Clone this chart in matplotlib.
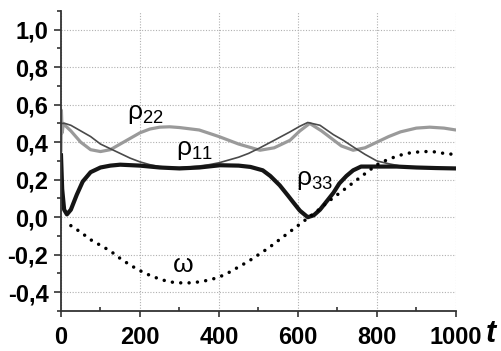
import matplotlib
matplotlib.use("Agg")
import matplotlib.pyplot as plt
from matplotlib.ticker import FixedLocator, MultipleLocator, FuncFormatter

plt.rcParams['font.family'] = ['Liberation Sans', 'DejaVu Sans']
plt.rcParams['mathtext.fontset'] = 'custom'
plt.rcParams['mathtext.rm'] = 'Liberation Sans'
plt.rcParams['mathtext.it'] = 'Liberation Sans'
plt.rcParams['mathtext.bf'] = 'Liberation Sans:bold'

# rho_22 (light gray)
t22 = [0, 1, 3, 6, 10, 25, 50, 75, 100, 125, 150, 175, 200, 225, 250, 275, 300, 350,
       400, 450, 504, 540, 580, 605, 630, 660, 685, 710, 740, 770, 800, 830, 860, 900,
       934, 970, 1000]
rho22 = [0.35, 0.57, 0.45, 0.50, 0.49, 0.46, 0.40, 0.36, 0.35, 0.36, 0.39, 0.42, 0.45,
         0.47, 0.48, 0.482, 0.478, 0.465, 0.43, 0.39, 0.357, 0.37, 0.41, 0.46, 0.50,
         0.46, 0.42, 0.38, 0.357, 0.37, 0.40, 0.43, 0.455, 0.475, 0.48, 0.475, 0.465]

# rho_11 (dark gray, thin)
t11 = [0, 10, 25, 50, 75, 100, 125, 150, 175, 200, 225, 250, 275, 300, 325, 350, 375,
       400, 425, 450, 475, 504, 540, 580, 605, 625, 656, 690, 715, 740, 770, 800, 830,
       866, 920, 1000]
rho11 = [0.50, 0.50, 0.49, 0.46, 0.43, 0.39, 0.365, 0.34, 0.315, 0.295, 0.28, 0.27,
         0.265, 0.265, 0.268, 0.273, 0.28, 0.29, 0.305, 0.32, 0.34, 0.37, 0.41, 0.455,
         0.485, 0.505, 0.49, 0.44, 0.41, 0.375, 0.335, 0.30, 0.285, 0.27, 0.265, 0.26]

# rho_33 (black, thick)
t33 = [0, 3, 8, 15, 25, 40, 55, 75, 100, 125, 150, 200, 250, 300, 350, 403, 450, 480,
       511, 530, 554, 575, 588, 605, 625, 640, 656, 675, 690, 705, 723, 740, 760, 800,
       850, 900, 950, 1000]
rho33 = [0.33, 0.15, 0.04, 0.015, 0.04, 0.12, 0.19, 0.24, 0.265, 0.275, 0.28, 0.275,
         0.265, 0.26, 0.265, 0.277, 0.275, 0.268, 0.25, 0.22, 0.17, 0.115, 0.08, 0.035,
         0.0, 0.01, 0.04, 0.09, 0.13, 0.18, 0.22, 0.25, 0.27, 0.27, 0.27, 0.265, 0.262,
         0.26]

# omega (dotted)
tw = [0, 25, 50, 75, 100, 125, 150, 175, 200, 225, 250, 275, 300, 325, 350, 375, 400,
      425, 450, 475, 500, 525, 550, 575, 600, 625, 650, 675, 700, 725, 750, 775, 800,
      825, 850, 875, 900, 925, 950, 975, 1000]
omega = [0.0, -0.045, -0.08, -0.12, -0.15, -0.18, -0.22, -0.255, -0.285, -0.31, -0.33,
         -0.345, -0.35, -0.35, -0.345, -0.335, -0.32, -0.295, -0.265, -0.235, -0.20,
         -0.165, -0.125, -0.085, -0.045, -0.005, 0.035, 0.08, 0.12, 0.16, 0.20, 0.24,
         0.28, 0.305, 0.325, 0.34, 0.347, 0.35, 0.348, 0.338, 0.335]

xticks = [0, 200, 400, 600, 800, 1000]
yticks = [-0.4, -0.2, 0.0, 0.2, 0.4, 0.6, 0.8, 1.0]

fig = plt.figure(figsize=(5.02, 3.51), dpi=100)
ax = fig.add_axes([0.1215, 0.114, 0.7865, 0.855])

ax.plot(t22, rho22, color='#9a9a9a', lw=2.3, solid_capstyle='round')
ax.plot(t11, rho11, color='#4a4a4a', lw=1.2)
ax.plot(t33, rho33, color='#151515', lw=3.0)
ax.plot(tw[1:], omega[1:], color='black', lw=2.5, linestyle=(0, (0.01, 2.4)),
        dash_capstyle='round')

ax.set_xlim(0, 1000)
ax.set_ylim(-0.5, 1.1)
ax.xaxis.set_major_locator(FixedLocator(xticks))
ax.xaxis.set_minor_locator(MultipleLocator(100))
ax.yaxis.set_major_locator(FixedLocator(yticks))
ax.yaxis.set_minor_locator(MultipleLocator(0.1))
ax.yaxis.set_major_formatter(FuncFormatter(lambda v, p: f"{v:.1f}".replace('.', ',').replace('-0,0', '0,0')))

ax.grid(True, which='major', color='#b0b0b0', linestyle=(0, (1, 1.5)), lw=0.8)
for s in ['top', 'right']:
    ax.spines[s].set_visible(False)
for s in ['left', 'bottom']:
    ax.spines[s].set_color('#333333')
    ax.spines[s].set_linewidth(1.3)

ax.tick_params(axis='x', which='major', direction='out', length=4, width=1.2, color='#333333', pad=7)
ax.tick_params(axis='x', which='minor', direction='in', length=3, width=1.2, color='#333333')
ax.tick_params(axis='y', which='major', direction='out', length=5, width=1.2, color='#333333', pad=4)
ax.tick_params(axis='y', which='minor', direction='out', length=3, width=1.2, color='#333333')
for lab in ax.get_xticklabels() + ax.get_yticklabels():
    lab.set_fontsize(17)
    lab.set_fontweight('bold')

ax.text(168, 0.55, r'$\rho_{22}$', fontsize=19, ha='left', va='center')
ax.text(292, 0.36, r'$\rho_{11}$', fontsize=19, ha='left', va='center')
ax.text(595, 0.2, r'$\rho_{33}$', fontsize=19, ha='left', va='center')
ax.text(281, -0.255, r'$\omega$', fontsize=19, ha='left', va='center')

fig.text(0.977, 0.048, 't', fontsize=22, fontweight='bold', style='italic',
         ha='center', va='center')

fig.savefig('out.png', dpi=100)
